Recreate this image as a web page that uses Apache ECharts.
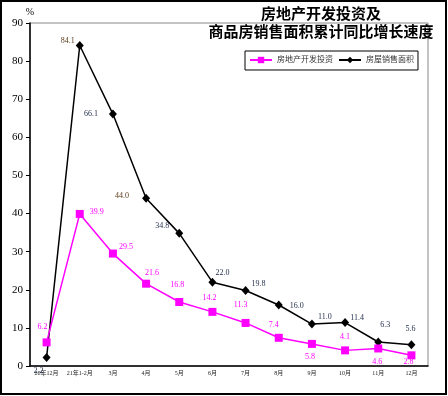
<!DOCTYPE html>
<html>
<head>
<meta charset="utf-8">
<script src="https://cdn.jsdelivr.net/npm/echarts@6/dist/echarts.min.js"></script>
<style>
  html,body{margin:0;padding:0;background:#fff;}
  #chart{width:448px;height:396px;}
</style>
</head>
<body>
<div id="chart"></div>
<script>
// data
const months = ["20年12月","21年1-2月","3月","4月","5月","6月","7月","8月","9月","10月","11月","12月"];
const investment = [6.2, 39.9, 29.5, 21.6, 16.8, 14.2, 11.3, 7.4, 5.8, 4.1, 4.6, 2.8];
const salesArea = [2.2, 84.1, 66.1, 44.0, 34.8, 22.0, 19.8, 16.0, 11.0, 11.4, 6.3, 5.6];
const yTicks = [0, 10, 20, 30, 40, 50, 60, 70, 80, 90];

// label placement (offset of label centre from the marker), styling only
const invLabelOff = [[-4,-15],[17,-2],[13,-7],[6,-11],[-2,-17],[-3,-14],[-5,-18],[-5,-13],[-2,13],[0,-13],[-1,13],[-3,7]];
const salesLabelOff = [[-8,13],[-12,-5],[-22,0],[-24,-2],[-17,-7],[10,-9],[13,-7],[18,1],[13,-7],[12,-5],[7,-17],[-1,-16]];
const salesLabelColor = ["#1e2a48","#5a3a1a","#1e2a48","#5a3a1a","#1e2a48","#1e2a48","#1e2a48","#1e2a48","#1e2a48","#1e2a48","#1e2a48","#1e2a48"];

const serif = '"Liberation Serif","Noto Sans CJK SC",serif';
const MAG = "#ff00ff";

const chart = echarts.init(document.getElementById("chart"));
chart.setOption({
  backgroundColor:"#fff",
  animation:false,
  graphic:[
    {type:"rect", shape:{x:1,y:1,width:445,height:393}, style:{fill:"none",stroke:"#000",lineWidth:2}, silent:true, z:100},
    {type:"text", x:321, y:6, style:{text:"房地产开发投资及", font:'bold 15px "Noto Sans CJK SC"', fill:"#000", textAlign:"center"}},
    {type:"text", x:321, y:24, style:{text:"商品房销售面积累计同比增长速度", font:'bold 15px "Noto Sans CJK SC"', fill:"#000", textAlign:"center"}}
  ],
  legend:{
    left:245, top:51, orient:"horizontal",
    padding:[5,4,6,4], itemGap:5, itemWidth:22, itemHeight:8,
    borderColor:"#000", borderWidth:1,
    textStyle:{fontSize:8, color:"#333", fontFamily:serif},
    data:["房地产开发投资","房屋销售面积"]
  },
  grid:{left:30, right:20, top:23, bottom:30, show:true, borderColor:"#888", borderWidth:1, containLabel:false},
  xAxis:{
    type:"category", data:months, boundaryGap:true,
    axisLine:{lineStyle:{color:"#000", width:1.5}},
    axisTick:{inside:true, length:4, lineStyle:{color:"#000"}},
    axisLabel:{fontSize:6, color:"#222", fontFamily:serif, margin:4, interval:0}
  },
  yAxis:{
    type:"value", min:yTicks[0], max:yTicks[yTicks.length-1], interval:10,
    name:"%", nameGap:3, nameTextStyle:{fontSize:10, color:"#000", fontFamily:serif, align:"center"},
    axisLine:{show:true, lineStyle:{color:"#000", width:1.5}},
    axisTick:{show:true, length:4, lineStyle:{color:"#000"}},
    axisLabel:{fontSize:11, color:"#000", fontFamily:serif, margin:7},
    splitLine:{show:false}
  },
  series:[
    {
      name:"房地产开发投资", type:"line", symbol:"rect", symbolSize:8,
      lineStyle:{color:MAG, width:1.5}, itemStyle:{color:MAG},
      data:investment.map((v,i) => ({value:v, label:{offset:invLabelOff[i]}})),
      label:{show:true, position:"inside", fontSize:8, color:MAG, fontFamily:serif, formatter:p => p.value.toFixed(1)},
      z:3
    },
    {
      name:"房屋销售面积", type:"line", symbol:"diamond", symbolSize:[8,9],
      lineStyle:{color:"#000", width:1.5}, itemStyle:{color:"#000"},
      data:salesArea.map((v,i) => ({value:v, label:{offset:salesLabelOff[i], color:salesLabelColor[i]}})),
      label:{show:true, position:"inside", fontSize:8, fontFamily:serif, formatter:p => p.value.toFixed(1)},
      z:2
    }
  ]
});
</script>
</body>
</html>
